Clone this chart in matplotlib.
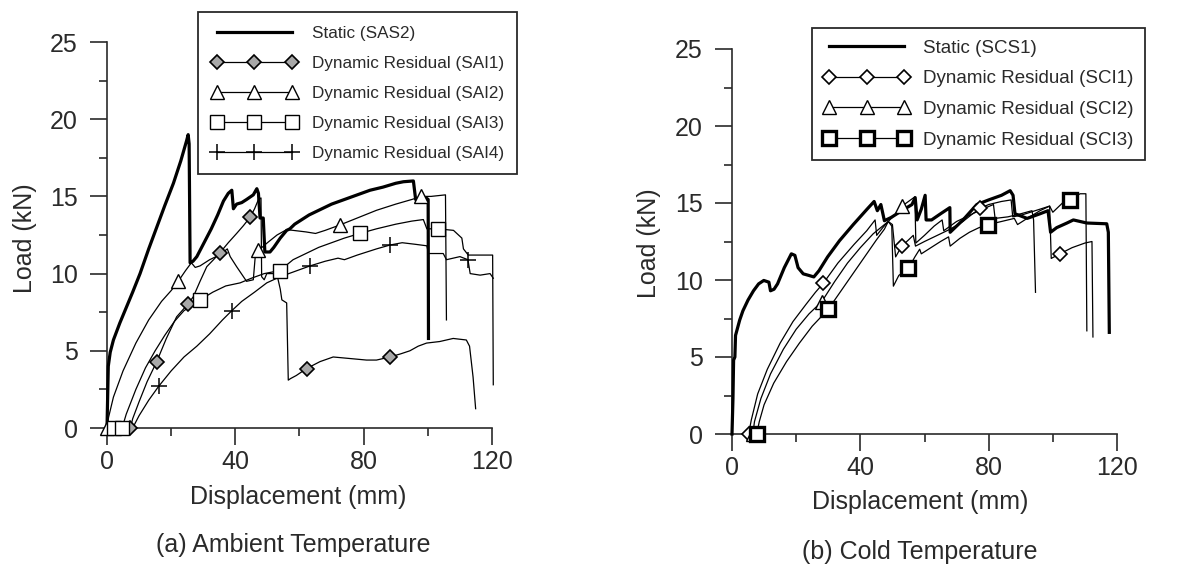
import matplotlib
matplotlib.use('Agg')
import matplotlib.pyplot as plt
from matplotlib.lines import Line2D
from matplotlib.ticker import MultipleLocator

plt.rcParams['font.family'] = ['Liberation Sans', 'DejaVu Sans']
TEXT = '#2a2a2a'

# --- (a) ambient temperature: displacement (mm) / load (kN) ---
sas2_x = [0, 0.4, 1.0, 2.0, 4.0, 6.0, 8.0, 10.3, 13.0, 15.5, 18.0, 20.7, 23.0, 24.8, 25.3, 25.6, 25.9, 26.8,
          28.0, 30.0, 32.5, 34.5, 36.3, 37.8, 38.9, 39.4, 40.4, 42.0, 43.5, 45.6, 46.7, 47.2, 47.7, 48.7,
          49.2, 50.8, 52.0, 54.0, 56.0, 57.0, 58.5, 60.0, 63.0, 66.0, 70.0, 74.0, 78.0, 82.0, 86.0, 90.0,
          92.4, 95.5, 96.2, 97.5, 99.5, 100.1, 100.2]
sas2_y = [0, 4.0, 4.9, 5.7, 6.8, 7.8, 8.8, 10.0, 11.6, 13.0, 14.4, 15.85, 17.3, 18.6, 19.0, 18.4, 10.7, 10.8,
          11.1, 11.9, 12.9, 13.8, 14.7, 15.2, 15.4, 14.2, 14.5, 14.6, 14.8, 15.1, 15.5, 15.2, 13.6, 13.6,
          11.4, 11.4, 11.7, 12.3, 12.8, 12.9, 13.2, 13.4, 13.8, 14.1, 14.5, 14.8, 15.1, 15.4, 15.6, 15.85,
          15.95, 16.0, 14.8, 14.7, 14.9, 14.8, 5.8]

sai1_x = [7.3, 8.0, 10.0, 12.5, 15.5, 18.5, 21.7, 25.1, 26.9, 29.0, 31.1, 33.2, 35.2, 37.8, 40.4, 42.5, 44.6,
          46.0, 47.2, 48.0, 48.2, 49.0, 49.8, 51.5, 52.9, 54.0, 54.5, 56.0, 56.5, 57.2, 59.0, 62.2, 66.4,
          70.5, 75.7, 80.9, 84.0, 88.2, 91.5, 94.4, 97.0, 99.6, 103.7, 107.9, 112.0, 113.0, 114.1, 114.9]
sai1_y = [0, 0.6, 1.7, 3.0, 4.3, 5.8, 7.2, 8.0, 8.5, 9.5, 10.45, 10.9, 11.35, 12.0, 12.6, 13.1, 13.65,
          14.2, 14.8, 14.9, 9.8, 9.6, 10.0, 10.0, 10.0, 9.0, 8.3, 8.1, 3.1, 3.2, 3.4, 3.85, 4.3,
          4.6, 4.5, 4.4, 4.4, 4.6, 4.8, 5.0, 5.3, 5.5, 5.6, 5.8, 5.7, 5.3, 3.3, 1.25]
sai1_mx = [7.3, 15.5, 25.1, 35.2, 44.6, 62.2, 88.2]
sai1_my = [0, 4.3, 8.0, 11.35, 13.65, 3.85, 4.6]

sai2_x = [0, 0.5, 2.0, 5.0, 9.0, 13.0, 17.0, 20.0, 22.2, 24.5, 26.3, 27.5, 29.0, 32.0, 35.0, 37.5, 38.4,
          40.4, 43.5, 45.6, 46.2, 47.2, 50.0, 53.0, 56.0, 58.0, 62.0, 65.0, 68.0, 72.6, 78.0, 84.0, 90.0,
          95.0, 98.0, 101.0, 105.5, 105.8]
sai2_y = [0, 0.7, 2.0, 3.7, 5.5, 7.0, 8.2, 8.9, 9.5, 10.2, 10.7, 10.4, 10.5, 10.9, 11.2, 11.6, 11.1,
          10.45, 9.5, 9.6, 11.1, 11.5, 12.0, 12.5, 12.85, 12.8, 12.7, 12.6, 12.8, 13.15, 13.6, 14.1, 14.5,
          14.8, 15.0, 15.0, 15.1, 7.0]
sai2_mx = [0, 22.2, 47.2, 72.6, 98.0]
sai2_my = [0, 9.5, 11.5, 13.15, 15.0]

sai3_x = [2.1, 4.7, 6.0, 9.0, 12.0, 15.0, 18.0, 21.0, 24.0, 27.0, 29.0, 33.0, 37.0, 41.5, 45.0, 49.0, 53.9,
          58.0, 62.0, 66.0, 70.0, 74.0, 78.8, 84.0, 90.0, 95.0, 98.6, 99.7, 103.2, 108.0, 110.6, 111.1,
          112.6, 116.0, 120.2, 120.4]
sai3_y = [0, 0, 0.9, 2.5, 3.9, 5.0, 6.0, 6.9, 7.6, 8.0, 8.3, 8.8, 9.2, 9.4, 9.7, 10.0, 10.2,
          10.9, 11.3, 11.7, 12.0, 12.3, 12.6, 12.9, 13.2, 13.4, 13.5, 12.9, 12.9, 12.8, 12.3, 11.6,
          11.2, 11.2, 11.2, 2.8]
sai3_mx = [2.1, 4.7, 29.0, 53.9, 78.8, 103.2]
sai3_my = [0, 0, 8.3, 10.2, 12.6, 12.9]

sai4_x = [8.0, 10.0, 13.0, 16.1, 20.0, 24.0, 28.0, 32.0, 36.0, 38.9, 42.0, 46.0, 49.8, 54.0, 58.0, 63.3,
          68.0, 72.0, 74.0, 78.0, 84.0, 88.2, 92.0, 96.0, 99.7, 100.2, 104.8, 105.8, 110.0, 112.5, 113.2,
          116.3, 119.4, 120.4]
sai4_y = [0, 0.8, 1.8, 2.7, 3.7, 4.6, 5.3, 6.1, 7.0, 7.6, 8.2, 8.8, 9.4, 9.8, 10.1, 10.5,
          10.8, 11.0, 10.9, 11.2, 11.6, 11.85, 12.0, 11.9, 11.8, 11.3, 11.3, 10.9, 11.1, 10.9, 10.0,
          9.9, 10.0, 9.7]
sai4_mx = [16.1, 38.9, 63.3, 88.2, 112.5]
sai4_my = [2.7, 7.6, 10.5, 11.85, 10.9]

# --- (b) cold temperature ---
scs1_x = [0, 0.3, 0.5, 0.9, 1.1, 2.4, 3.4, 5.0, 6.7, 8.3, 9.9, 11.5, 12.0, 13.1, 14.2, 16.3, 18.5, 19.6,
          20.6, 22.2, 23.9, 25.5, 27.1, 29.8, 33.5, 37.8, 42.1, 44.3, 45.3, 46.4, 47.5, 49.6, 52.9, 56.1,
          57.1, 57.7, 59.0, 60.2, 60.5, 62.2, 65.0, 67.9, 68.0, 72.0, 76.3, 80.0, 84.0, 86.7, 87.6, 88.2,
          92.0, 96.0, 98.5, 99.3, 101.2, 104.4, 106.4, 110.6, 116.8, 117.3, 117.6]
scs1_y = [0, 2.3, 4.8, 5.0, 6.4, 7.4, 8.0, 8.7, 9.3, 9.75, 9.97, 9.86, 9.3, 9.4, 9.75, 10.8, 11.7, 11.6,
          10.8, 10.4, 10.3, 10.2, 10.6, 11.5, 12.55, 13.6, 14.6, 15.1, 14.5, 14.9, 13.85, 14.06, 14.5, 14.9,
          15.35, 13.9, 14.6, 15.5, 13.9, 13.9, 14.3, 14.7, 13.1, 13.9, 14.9, 15.2, 15.5, 15.8, 15.5, 14.3,
          14.0, 14.3, 14.5, 13.1, 13.4, 13.7, 13.9, 13.7, 13.65, 13.1, 6.6]

sci1_x = [5.2, 6.0, 8.0, 11.0, 15.0, 19.0, 23.0, 26.0, 28.5, 33.0, 38.0, 42.0, 44.6, 45.1, 47.0, 48.7, 50.0,
          51.0, 52.9, 55.0, 56.5, 57.2, 60.0, 64.0, 68.0, 72.0, 75.0, 77.3, 80.0, 84.0, 87.0, 87.5, 90.0,
          93.0, 96.0, 99.0, 99.5, 102.2, 106.0, 110.0, 112.2, 112.5]
sci1_y = [0, 0.9, 2.6, 4.2, 5.9, 7.3, 8.4, 9.2, 9.8, 11.1, 12.3, 13.2, 13.9, 12.9, 13.4, 13.8, 13.6,
          11.5, 12.2, 12.6, 12.9, 12.2, 12.5, 12.9, 13.3, 13.8, 14.3, 14.65, 14.9, 15.1, 15.2, 14.1, 14.2,
          14.4, 14.6, 14.8, 11.4, 11.7, 12.1, 12.4, 12.5, 6.3]
sci1_mx = [5.2, 28.5, 52.9, 77.3, 102.2]
sci1_my = [0, 9.8, 12.2, 14.65, 11.7]

sci2_x = [6.5, 7.0, 9.0, 12.0, 16.0, 20.0, 24.0, 28.0, 32.0, 36.0, 40.0, 44.0, 48.7, 51.0, 53.0, 55.0,
          57.0, 57.3, 60.0, 63.0, 65.5, 66.0, 70.0, 74.0, 78.0, 81.5, 82.0, 86.0, 90.0, 93.5, 94.0, 94.6]
sci2_y = [0, 0.8, 2.3, 3.9, 5.5, 6.8, 7.8, 8.6, 9.9, 11.1, 12.1, 13.0, 13.8, 14.3, 14.8, 15.1,
          15.4, 12.4, 12.9, 13.5, 13.9, 13.2, 13.8, 14.2, 14.6, 14.9, 14.0, 14.1, 14.3, 14.5, 13.9, 9.2]
sci2_mx = [6.5, 28.0, 53.0]
sci2_my = [0, 8.6, 14.8]

sci3_x = [7.7, 8.5, 10.0, 13.0, 17.0, 21.0, 25.0, 30.0, 34.0, 38.0, 42.0, 45.0, 47.5, 48.7, 49.8, 50.3,
          52.0, 55.0, 57.0, 58.5, 59.0, 62.0, 65.0, 67.5, 68.0, 71.0, 74.0, 77.0, 79.9, 84.0, 88.0, 89.0,
          92.0, 96.0, 99.0, 100.0, 103.0, 105.4, 108.5, 110.3, 110.6]
sci3_y = [0, 0.8, 1.9, 3.3, 4.7, 5.9, 7.0, 8.1, 9.3, 10.5, 11.7, 12.6, 13.3, 13.8, 13.5, 9.6,
          10.3, 10.75, 11.5, 12.0, 11.7, 12.1, 12.5, 12.8, 12.2, 12.7, 13.1, 13.4, 13.6, 13.8, 14.0, 13.6,
          14.0, 14.5, 14.8, 14.4, 15.0, 15.2, 15.6, 15.6, 6.7]
sci3_mx = [7.7, 30.0, 55.0, 79.9, 105.4]
sci3_my = [0, 8.1, 10.75, 13.6, 15.2]

labels_a = ['Static (SAS2)', 'Dynamic Residual (SAI1)', 'Dynamic Residual (SAI2)',
            'Dynamic Residual (SAI3)', 'Dynamic Residual (SAI4)']
labels_b = ['Static (SCS1)', 'Dynamic Residual (SCI1)', 'Dynamic Residual (SCI2)',
            'Dynamic Residual (SCI3)']

# marker styles: (marker, size, facecolor, edgewidth)
DIAMOND_A = ('D', 7.5, '#a8a8a8', 1.2)
DIAMOND_B = ('D', 7.5, 'white', 1.2)
TRIANGLE = ('^', 10, 'white', 1.0)
SQUARE = ('s', 10.5, 'white', 1.0)
SQUARE_BOLD = ('s', 10.5, 'white', 2.4)
PLUS = ('+', 12, 'none', 1.1)

STATIC_LW = 2.3
THIN_LW = 0.9


def setup_axes(ax):
    ax.set_xlim(0, 120)
    ax.set_ylim(0, 25)
    for side in ['top', 'right']:
        ax.spines[side].set_visible(False)
    for side in ['left', 'bottom']:
        ax.spines[side].set_linewidth(1.2)
        ax.spines[side].set_color(TEXT)
    ax.xaxis.set_major_locator(MultipleLocator(40))
    ax.xaxis.set_minor_locator(MultipleLocator(20))
    ax.yaxis.set_major_locator(MultipleLocator(5))
    ax.yaxis.set_minor_locator(MultipleLocator(2.5))
    ax.tick_params(which='major', direction='out', length=12, width=1.2, color=TEXT,
                   labelsize=18, labelcolor=TEXT)
    ax.tick_params(which='minor', direction='out', length=6, width=1.2, color=TEXT)
    ax.tick_params(axis='y', which='major', pad=9)
    ax.tick_params(axis='x', which='major', pad=4)
    ax.patch.set_visible(False)


def draw_panel(ax, static, series):
    ax.plot(static[0], static[1], color='black', lw=STATIC_LW, clip_on=False, zorder=3)
    handles = [Line2D([], [], color='black', lw=STATIC_LW)]
    for x, y, mx, my, style in series:
        marker, ms, fc, mew = style
        ax.plot(x, y, color='black', lw=THIN_LW, clip_on=False, zorder=2)
        ax.plot(mx, my, ls='none', marker=marker, ms=ms, mfc=fc, mec='black', mew=mew,
                clip_on=False, zorder=4)
        handles.append(Line2D([], [], color='black', lw=THIN_LW, marker=marker, ms=ms,
                              mfc=fc, mec='black', mew=mew))
    return handles


def add_legend(fig, ax, handles, labels, anchor, size, hlen, tpad, lspace, bpad):
    leg = ax.legend(handles, labels, loc='upper left', bbox_to_anchor=anchor,
                    bbox_transform=fig.transFigure, fontsize=size, numpoints=3,
                    handlelength=hlen, handletextpad=tpad, labelspacing=lspace,
                    borderpad=bpad, borderaxespad=0, fancybox=False, framealpha=1,
                    edgecolor=TEXT)
    leg.get_frame().set_linewidth(1.3)
    for t in leg.get_texts():
        t.set_color(TEXT)


W, H = 1181, 566
fig = plt.figure(figsize=(W / 100, H / 100), dpi=100)

ax_a = fig.add_axes([107 / W, 1 - 428 / H, 385 / W, 386 / H])
ax_b = fig.add_axes([732 / W, 1 - 434 / H, 385 / W, 385 / H])
setup_axes(ax_a)
setup_axes(ax_b)

h_a = draw_panel(ax_a, (sas2_x, sas2_y), [
    (sai1_x, sai1_y, sai1_mx, sai1_my, DIAMOND_A),
    (sai2_x, sai2_y, sai2_mx, sai2_my, TRIANGLE),
    (sai3_x, sai3_y, sai3_mx, sai3_my, SQUARE),
    (sai4_x, sai4_y, sai4_mx, sai4_my, PLUS),
])
h_b = draw_panel(ax_b, (scs1_x, scs1_y), [
    (sci1_x, sci1_y, sci1_mx, sci1_my, DIAMOND_B),
    (sci2_x, sci2_y, sci2_mx, sci2_my, TRIANGLE),
    (sci3_x, sci3_y, sci3_mx, sci3_my, SQUARE_BOLD),
])

add_legend(fig, ax_a, h_a, labels_a, (198 / W, 1 - 12 / H), 12.3, 5.0, 0.85, 0.88, 0.8)
add_legend(fig, ax_b, h_b, labels_b, (812 / W, 1 - 28 / H), 13.5, 4.6, 0.7, 0.72, 0.62)

# axis titles and captions
fig.text(25 / W, 1 - 238 / H, 'Load (kN)', rotation=90, ha='center', va='center', fontsize=18, color=TEXT)
fig.text(649 / W, 1 - 243 / H, 'Load (kN)', rotation=90, ha='center', va='center', fontsize=18, color=TEXT)
fig.text(298 / W, 1 - 497 / H, 'Displacement (mm)', ha='center', va='center', fontsize=18, color=TEXT)
fig.text(920 / W, 1 - 502 / H, 'Displacement (mm)', ha='center', va='center', fontsize=18, color=TEXT)
fig.text(293 / W, 1 - 545 / H, '(a) Ambient Temperature', ha='center', va='center', fontsize=18, color=TEXT)
fig.text(920 / W, 1 - 552 / H, '(b) Cold Temperature', ha='center', va='center', fontsize=18, color=TEXT)

fig.savefig('out.png', dpi=100)
